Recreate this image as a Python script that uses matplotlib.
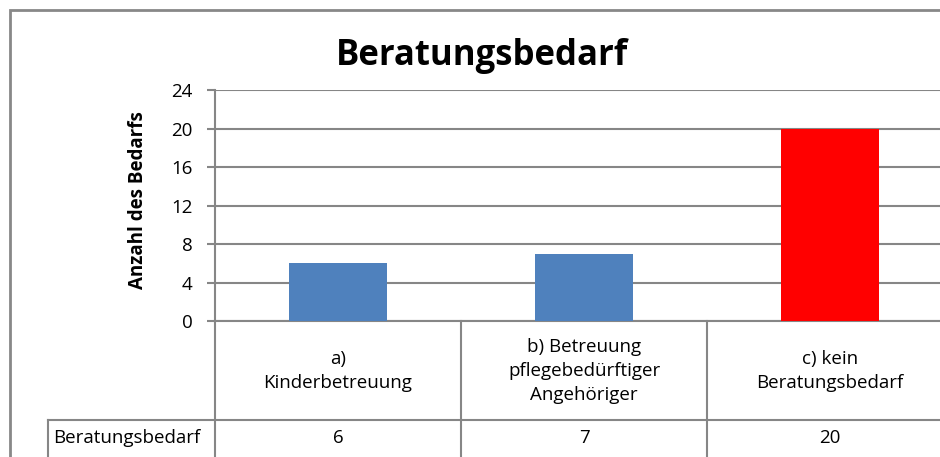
import matplotlib.pyplot as plt
from matplotlib.lines import Line2D
from matplotlib.patches import Rectangle
import matplotlib.transforms as mtransforms

categories = ['a)\nKinderbetreuung', 'b) Betreuung\npflegebedürftiger\nAngehöriger', 'c) kein\nBeratungsbedarf']
values = [6, 7, 20]
bar_colors = ['#4F81BD', '#4F81BD', '#FF0000']
series_name = 'Beratungsbedarf'
yticks = [0, 4, 8, 12, 16, 20, 24]

plt.rcParams['font.family'] = ['Open Sans', 'DejaVu Sans']
W, H = 940, 457
grid_col = '#868686'


def fx(p):
    return p / W


def fy(p):
    return 1 - p / H


fig = plt.figure(figsize=(9.4, 4.57), dpi=100)
ax = fig.add_axes([fx(215), fy(321), fx(953 - 215), (321 - 90) / H])

x = range(len(values))
ax.bar(x, values, width=0.4, color=bar_colors, zorder=3)
ax.set_xlim(-0.5, 2.5)
ax.set_ylim(0, 24)
ax.set_yticks(yticks)
ax.yaxis.grid(True, color=grid_col, linewidth=1.5)
ax.set_axisbelow(True)
ax.set_xticks([])
ax.tick_params(axis='y', length=6, width=1.5, color=grid_col, labelsize=13.5, pad=10)
for s in ['top', 'right']:
    ax.spines[s].set_visible(False)
for s in ['left', 'bottom']:
    ax.spines[s].set_color(grid_col)
    ax.spines[s].set_linewidth(1.5)
ax.set_ylabel('Anzahl des Bedarfs', fontsize=13.5, fontweight='bold')
ax.yaxis.set_label_coords((138 - 215) / 738, (321 - 200) / 231)
ax.yaxis.label.set_va('center')
fig.text(fx(482), fy(56), 'Beratungsbedarf', ha='center', va='center', fontsize=25, fontweight='bold')

# data table under the axis
trans = mtransforms.blended_transform_factory(ax.transData, fig.transFigure)
for b in [-0.5, 0.5, 1.5, 2.5]:
    ax.add_line(Line2D([b, b], [fy(321), 0], transform=trans, color=grid_col, lw=1.5, clip_on=False))
fig.add_artist(Line2D([fx(48), 1], [fy(420), fy(420)], color=grid_col, lw=1.5))
fig.add_artist(Line2D([fx(48), fx(48)], [fy(420), 0], color=grid_col, lw=1.5))

for i, (cat, v) in enumerate(zip(categories, values)):
    ax.text(i, fy(371), cat, transform=trans, ha='center', va='center', fontsize=13.5, linespacing=1.45)
    ax.text(i, fy(438), str(v), transform=trans, ha='center', va='center', fontsize=13.5)
fig.text(fx(53), fy(438), series_name, ha='left', va='center', fontsize=13.5)

# outer chart frame
fig.add_artist(Rectangle((fx(10), -0.1), 1.2, fy(10) + 0.1, transform=fig.transFigure,
                         fill=False, edgecolor='#888888', lw=2))

fig.savefig('out.png', dpi=100)
